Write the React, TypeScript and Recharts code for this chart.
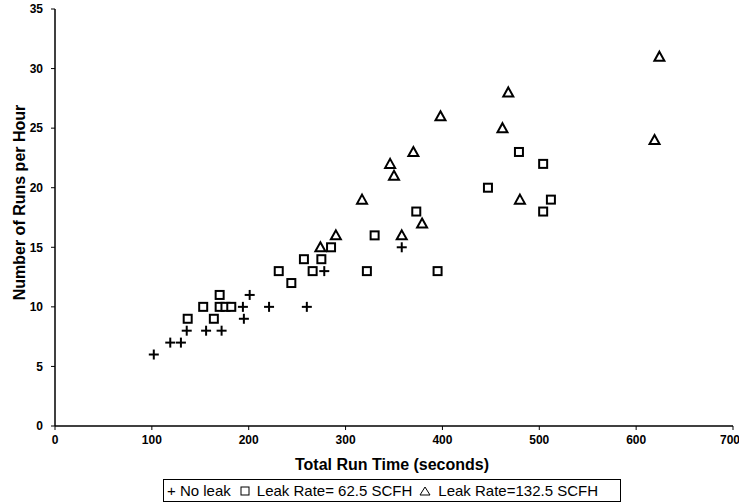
import { Label, Scatter, ScatterChart, XAxis, YAxis } from 'recharts'

// Total run time (s) and runs per hour for each leak condition
const noLeakTime = [102, 119, 130, 136, 156, 172, 194, 195, 201, 221, 260, 278, 358]
const noLeakRuns = [6, 7, 7, 8, 8, 8, 10, 9, 11, 10, 10, 13, 15]

const leak62Time = [
  137, 153, 164, 170, 170, 176, 182, 231, 244, 257, 266, 275, 285, 322, 330,
  373, 395, 447, 479, 504, 504, 512,
]
const leak62Runs = [
  9, 10, 9, 11, 10, 10, 10, 13, 12, 14, 13, 14, 15, 13, 16, 18, 13, 20, 23, 22,
  18, 19,
]

const leak132Time = [274, 290, 317, 346, 350, 358, 370, 379, 398, 462, 468, 480, 619, 624]
const leak132Runs = [15, 16, 19, 22, 21, 16, 23, 17, 26, 25, 28, 19, 24, 31]

const xTicks = [0, 100, 200, 300, 400, 500, 600, 700]
const yTicks = [0, 5, 10, 15, 20, 25, 30, 35]

const toPoints = (xs: number[], ys: number[]) => xs.map((x, i) => ({ x, y: ys[i] }))

const tickFont = {
  fontFamily: "'Liberation Sans Narrow', 'Liberation Sans', Arial, sans-serif",
  fontSize: 12,
  fontWeight: 700,
  fill: '#000',
}

const titleFont = "'Liberation Sans', Arial, sans-serif"

function Plus({ cx, cy }: any) {
  return (
    <g stroke="#000" strokeWidth={2}>
      <line x1={cx - 5} y1={cy} x2={cx + 5} y2={cy} />
      <line x1={cx} y1={cy - 5} x2={cx} y2={cy + 5} />
    </g>
  )
}

function Square({ cx, cy }: any) {
  return (
    <rect x={cx - 4} y={cy - 4} width={8} height={8} fill="#fff" stroke="#000" strokeWidth={2} />
  )
}

function Triangle({ cx, cy }: any) {
  return (
    <polygon
      points={`${cx},${cy - 5} ${cx + 5},${cy + 4} ${cx - 5},${cy + 4}`}
      fill="#fff"
      stroke="#000"
      strokeWidth={2}
      strokeLinejoin="miter"
    />
  )
}

function LegendBox() {
  return (
    <div
      style={{
        position: 'absolute',
        left: 163,
        top: 479,
        width: 453,
        height: 21,
        border: '1px solid #000',
        fontFamily: titleFont,
        fontSize: 15,
        lineHeight: '21px',
        color: '#000',
        whiteSpace: 'nowrap',
        display: 'flex',
        alignItems: 'center',
        gap: 6,
        paddingLeft: 3,
      }}
    >
      <span>+ No leak</span>
      <svg width={14} height={12}>
        <rect x={4} y={2} width={8} height={8} fill="none" stroke="#000" strokeWidth={1} />
      </svg>
      <span>Leak Rate= 62.5 SCFH</span>
      <svg width={14} height={12}>
        <polygon points="7,2 12,10 2,10" fill="none" stroke="#000" strokeWidth={1} />
      </svg>
      <span>Leak Rate=132.5 SCFH</span>
    </div>
  )
}

export default function App() {
  return (
    <div style={{ position: 'fixed', left: 0, top: 0, width: 739, height: 504, background: '#fff' }}>
      <ScatterChart width={739} height={504} margin={{ top: 9, right: 6, bottom: 28, left: 0 }}>
        <XAxis
          type="number"
          dataKey="x"
          domain={[0, 700]}
          ticks={xTicks}
          height={50}
          tick={tickFont}
          tickSize={4}
          tickMargin={5}
          axisLine={{ stroke: '#000', strokeWidth: 1.5 }}
          tickLine={{ stroke: '#000' }}
        >
          <Label
            content={({ viewBox }: any) => (
              <text
                x={viewBox.x + viewBox.width / 2 - 2}
                y={viewBox.y + 44}
                textAnchor="middle"
                fontFamily={titleFont}
                fontSize={16}
                fontWeight={700}
                fill="#000"
              >
                Total Run Time (seconds)
              </text>
            )}
          />
        </XAxis>
        <YAxis
          type="number"
          dataKey="y"
          domain={[0, 35]}
          ticks={yTicks}
          width={55}
          tick={tickFont}
          tickSize={4}
          tickMargin={8}
          axisLine={{ stroke: '#000', strokeWidth: 1.5 }}
          tickLine={{ stroke: '#000' }}
        >
          <Label
            content={({ viewBox }: any) => (
              <text
                x={19}
                y={viewBox.y + viewBox.height / 2 - 15}
                transform={`rotate(-90, 19, ${viewBox.y + viewBox.height / 2 - 15})`}
                textAnchor="middle"
                dominantBaseline="central"
                fontFamily={titleFont}
                fontSize={16}
                fontWeight={700}
                fill="#000"
              >
                Number of Runs per Hour
              </text>
            )}
          />
        </YAxis>
        <Scatter
          name="No leak"
          data={toPoints(noLeakTime, noLeakRuns)}
          shape={Plus}
          isAnimationActive={false}
        />
        <Scatter
          name="Leak Rate= 62.5 SCFH"
          data={toPoints(leak62Time, leak62Runs)}
          shape={Square}
          isAnimationActive={false}
        />
        <Scatter
          name="Leak Rate=132.5 SCFH"
          data={toPoints(leak132Time, leak132Runs)}
          shape={Triangle}
          isAnimationActive={false}
        />
      </ScatterChart>
      <LegendBox />
    </div>
  )
}
